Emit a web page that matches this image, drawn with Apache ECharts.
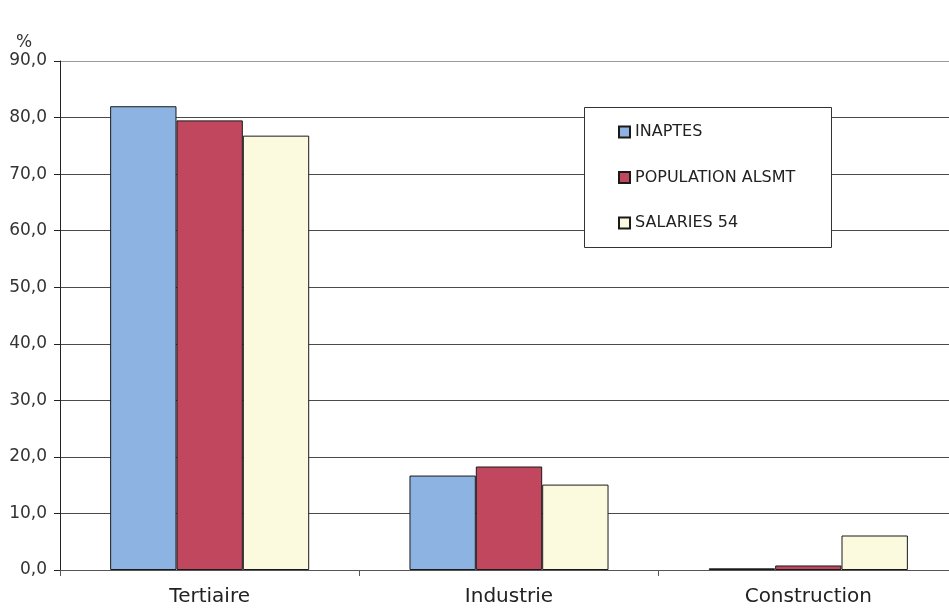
<!DOCTYPE html>
<html>
<head>
<meta charset="utf-8">
<script src="https://cdn.jsdelivr.net/npm/echarts@6/dist/echarts.min.js"></script>
<style>
html,body{margin:0;padding:0;background:#fff;overflow:hidden;}
#chart{width:959px;height:610px;}
</style>
</head>
<body>
<div id="chart"></div>
<script>
const categories = ['Tertiaire', 'Industrie', 'Construction'];
const seriesNames = ['INAPTES', 'POPULATION ALSMT', 'SALARIES 54'];
const inaptes = [82.0, 16.7, 0.3];
const population = [79.5, 18.3, 0.8];
const salaries = [76.8, 15.1, 6.1];
const yTicks = [0, 10, 20, 30, 40, 50, 60, 70, 80, 90];

const colors = ['#8DB3E2', '#C0475E', '#FBFADF'];
const font = 'DejaVu Sans, Verdana, sans-serif';

const chart = echarts.init(document.getElementById('chart'));
const splitColors = yTicks.map((v, i) => i === yTicks.length - 1 ? '#9a9a9a' : '#4a4a4a');

chart.setOption({
  backgroundColor: '#ffffff',
  animation: false,
  title: {
    text: '%',
    left: 11,
    top: 29,
    textStyle: { fontFamily: font, fontSize: 17, fontWeight: 'normal', color: '#333' }
  },
  grid: { left: 60, top: 61, bottom: 40, right: 1, containLabel: false },
  graphic: [{
    type: 'rect',
    z: 10,
    shape: { x: 584.5, y: 107.5, width: 247, height: 140 },
    style: { fill: '#ffffff', stroke: '#333333', lineWidth: 1 }
  }],
  legend: {
    z: 11,
    orient: 'vertical',
    left: 618,
    top: 123,
    padding: 0,
    icon: 'rect',
    itemWidth: 11,
    itemHeight: 11,
    itemGap: 27.5,
    data: seriesNames,
    textStyle: { fontFamily: font, fontSize: 16, color: '#222', lineHeight: 18 }
  },
  xAxis: {
    type: 'category',
    data: categories,
    axisLine: { show: true, lineStyle: { color: '#555', width: 1 } },
    axisTick: { show: true, alignWithLabel: false, length: 6, lineStyle: { color: '#555' } },
    axisLabel: { fontFamily: font, fontSize: 20, color: '#222', margin: 17 }
  },
  yAxis: {
    type: 'value',
    min: 0,
    max: 90,
    interval: 10,
    axisLine: { show: true, lineStyle: { color: '#222', width: 1 } },
    axisTick: { show: true, length: 6, lineStyle: { color: '#222' } },
    axisLabel: {
      fontFamily: font, fontSize: 17, color: '#333', margin: 13,
      formatter: v => v.toFixed(1).replace('.', ',')
    },
    splitLine: { show: true, lineStyle: { color: splitColors, width: 1 } }
  },
  series: [
    { name: seriesNames[0], type: 'bar', data: inaptes, barGap: '0%', barCategoryGap: '33.5%',
      itemStyle: { color: colors[0], borderColor: '#1a1a1a', borderWidth: 1 } },
    { name: seriesNames[1], type: 'bar', data: population, barGap: '0%', barCategoryGap: '33.5%',
      itemStyle: { color: colors[1], borderColor: '#1a1a1a', borderWidth: 1 } },
    { name: seriesNames[2], type: 'bar', data: salaries, barGap: '0%', barCategoryGap: '33.5%',
      itemStyle: { color: colors[2], borderColor: '#1a1a1a', borderWidth: 1 } }
  ]
});
</script>
</body>
</html>
